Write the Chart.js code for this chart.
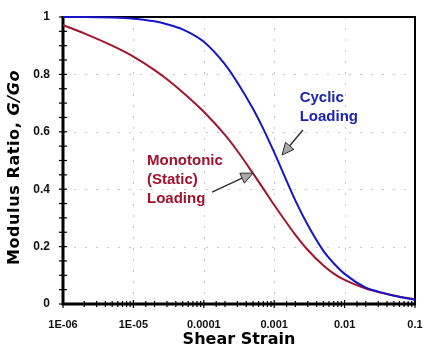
<!DOCTYPE html>
<html>
<head>
<meta charset="utf-8">
<script src="https://cdn.jsdelivr.net/npm/chart.js@4.4.1/dist/chart.umd.min.js"></script>
<style>
  html, body { margin: 0; padding: 0; background: #fff; overflow: hidden; }
  #wrap { width: 423px; height: 352px; position: relative; }
</style>
</head>
<body>
<div id="wrap"><canvas id="c"></canvas></div>
<script>
// Shear strain (log scale) and modulus ratio G/Go for the two loading types
const strain    = [1e-6, 2e-6, 5e-6, 1e-5, 2e-5, 3e-5, 5e-5, 1e-4, 2e-4, 3e-4, 5e-4, 7e-4, 1e-3, 1.5e-3, 2e-3, 3e-3, 5e-3, 7e-3, 1e-2, 2e-2, 3e-2, 5e-2, 1e-1];
const cyclic    = [1.000, 1.000, 0.998, 0.994, 0.985, 0.975, 0.957, 0.914, 0.835, 0.772, 0.680, 0.610, 0.528, 0.429, 0.360, 0.275, 0.185, 0.142, 0.105, 0.057, 0.043, 0.029, 0.015];
const monotonic = [0.972, 0.943, 0.900, 0.862, 0.815, 0.783, 0.738, 0.670, 0.589, 0.533, 0.455, 0.402, 0.345, 0.283, 0.241, 0.188, 0.134, 0.106, 0.084, 0.054, 0.042, 0.030, 0.016];

// Axis tick labels
const xDecades    = [1e-6, 1e-5, 1e-4, 1e-3, 1e-2, 1e-1];
const xTickLabels = ['1E-06', '1E-05', '0.0001', '0.001', '0.01', '0.1'];
const yTicks      = [0, 0.2, 0.4, 0.6, 0.8, 1];
const yTickLabels = ['0', '0.2', '0.4', '0.6', '0.8', '1'];

// Callout labels with arrows, placed in data coordinates
const callouts = [
  { lines: ['Cyclic', 'Loading'], color: '#1c22b4', textAt: [2.3e-3, 0.718], lineStep: -0.066,
    arrowFrom: [2.56e-3, 0.606], arrowTo: [1.29e-3, 0.519] },
  { lines: ['Monotonic', '(Static)', 'Loading'], color: '#a0122e', textAt: [1.56e-5, 0.498], lineStep: -0.065,
    arrowFrom: [1.31e-4, 0.390], arrowTo: [5.0e-4, 0.456] }
];

const isDecade = v => xDecades.findIndex(d => Math.abs(Math.log10(v) - Math.log10(d)) < 1e-6);

const decorations = {
  id: 'decorations',
  beforeDatasetsDraw(chart) {
    const { ctx, chartArea: a, scales: { x, y } } = chart;
    ctx.save();
    // dotted grid
    ctx.strokeStyle = '#c8c8c8';
    ctx.lineWidth = 1;
    ctx.setLineDash([2, 9]);
    yTicks.slice(1, -1).forEach(v => {
      const py = Math.round(y.getPixelForValue(v)) + 0.5;
      ctx.beginPath(); ctx.moveTo(a.left, py); ctx.lineTo(a.right, py); ctx.stroke();
    });
    xDecades.slice(1, -1).forEach(v => {
      const px = Math.round(x.getPixelForValue(v)) + 0.5;
      ctx.beginPath(); ctx.moveTo(px, a.top); ctx.lineTo(px, a.bottom); ctx.stroke();
    });
    ctx.setLineDash([]);

    // tick marks crossing the axes
    ctx.strokeStyle = '#000';
    ctx.lineWidth = 1.2;
    for (let i = 0; i <= 20; i++) {
      const py = y.getPixelForValue(i * 0.05);
      ctx.beginPath(); ctx.moveTo(a.left - 4, py); ctx.lineTo(a.left + 4, py); ctx.stroke();
    }
    x.ticks.forEach(t => {
      const px = x.getPixelForValue(t.value);
      const len = isDecade(t.value) >= 0 ? 4 : 3;
      ctx.beginPath(); ctx.moveTo(px, a.bottom - len); ctx.lineTo(px, a.bottom + len); ctx.stroke();
    });

    // frame
    ctx.lineWidth = 2;
    ctx.beginPath();
    ctx.moveTo(a.left, a.top); ctx.lineTo(a.right, a.top); ctx.lineTo(a.right, a.bottom);
    ctx.stroke();
    ctx.lineWidth = 3;
    ctx.beginPath();
    ctx.moveTo(a.left, a.top - 1); ctx.lineTo(a.left, a.bottom); ctx.lineTo(a.right + 1, a.bottom);
    ctx.stroke();
    ctx.restore();
  },
  afterDatasetsDraw(chart) {
    const { ctx, chartArea: a, scales: { x, y } } = chart;
    ctx.save();
    // callouts
    callouts.forEach(c => {
      const tx = x.getPixelForValue(c.textAt[0]);
      ctx.font = 'bold 15px "Liberation Sans", Arial, sans-serif';
      ctx.fillStyle = c.color;
      ctx.textAlign = 'left';
      ctx.textBaseline = 'middle';
      c.lines.forEach((s, i) => {
        ctx.fillText(s, tx, y.getPixelForValue(c.textAt[1] + i * c.lineStep));
      });
      const x0 = x.getPixelForValue(c.arrowFrom[0]), y0 = y.getPixelForValue(c.arrowFrom[1]);
      const x1 = x.getPixelForValue(c.arrowTo[0]),   y1 = y.getPixelForValue(c.arrowTo[1]);
      const ang = Math.atan2(y1 - y0, x1 - x0);
      const headLen = 12, headW = 5.5;
      const bx = x1 - headLen * Math.cos(ang), by = y1 - headLen * Math.sin(ang);
      ctx.strokeStyle = '#333';
      ctx.lineWidth = 1.5;
      ctx.beginPath(); ctx.moveTo(x0, y0); ctx.lineTo(bx, by); ctx.stroke();
      ctx.beginPath();
      ctx.moveTo(x1, y1);
      ctx.lineTo(bx + headW * Math.sin(ang), by - headW * Math.cos(ang));
      ctx.lineTo(bx - headW * Math.sin(ang), by + headW * Math.cos(ang));
      ctx.closePath();
      ctx.fillStyle = '#a8a8a8';
      ctx.fill();
      ctx.lineWidth = 1;
      ctx.strokeStyle = '#2a2a2a';
      ctx.stroke();
    });

    // axis titles
    ctx.fillStyle = '#000';
    ctx.textBaseline = 'middle';
    ctx.font = 'bold 16px "DejaVu Sans", sans-serif';
    ctx.textAlign = 'center';
    ctx.fillText('Shear Strain', (a.left + a.right) / 2, a.bottom + 36);

    const part1 = 'Modulus Ratio, ', part2 = 'G/Go';
    const f1 = 'bold 16px "DejaVu Sans", sans-serif';
    const f2 = 'italic bold 16px "DejaVu Sans", sans-serif';
    ctx.letterSpacing = '0.6px';
    ctx.font = f1; const w1 = ctx.measureText(part1).width;
    ctx.font = f2; const w2 = ctx.measureText(part2).width;
    ctx.translate(15, (a.top + a.bottom) / 2 + 7);
    ctx.rotate(-Math.PI / 2);
    ctx.textAlign = 'left';
    ctx.font = f1; ctx.fillText(part1, -(w1 + w2) / 2, 0);
    ctx.font = f2; ctx.fillText(part2, -(w1 + w2) / 2 + w1, 0);
    ctx.restore();
  }
};

new Chart(document.getElementById('c'), {
  type: 'line',
  data: {
    labels: strain,
    datasets: [
      { label: 'Cyclic Loading', data: strain.map((s, i) => ({ x: s, y: cyclic[i] })),
        borderColor: '#1616c8', borderWidth: 2, pointRadius: 0, cubicInterpolationMode: 'monotone', clip: 6 },
      { label: 'Monotonic (Static) Loading', data: strain.map((s, i) => ({ x: s, y: monotonic[i] })),
        borderColor: '#a3152f', borderWidth: 2, pointRadius: 0, cubicInterpolationMode: 'monotone', clip: 6 }
    ]
  },
  options: {
    responsive: true,
    maintainAspectRatio: false,
    animation: false,
    events: [],
    layout: { padding: { top: 17, right: 0, left: 0, bottom: 0 } },
    plugins: { legend: { display: false }, tooltip: { enabled: false } },
    scales: {
      x: {
        type: 'logarithmic',
        min: xDecades[0], max: xDecades[xDecades.length - 1],
        grid: { display: false, drawTicks: false },
        border: { display: false },
        ticks: {
          autoSkip: false, maxRotation: 0, padding: 14, color: '#111',
          font: { family: '"Liberation Sans", Arial, sans-serif', size: 11, weight: 'bold' },
          callback: v => { const i = isDecade(v); return i >= 0 ? xTickLabels[i] : ''; }
        },
        afterFit: s => { s.height = 48; s.paddingLeft = 0; s.paddingRight = 8; }
      },
      y: {
        min: yTicks[0], max: yTicks[yTicks.length - 1],
        grid: { display: false, drawTicks: false },
        border: { display: false },
        ticks: {
          stepSize: 0.2, padding: 13, color: '#111',
          font: { family: '"Liberation Sans", Arial, sans-serif', size: 12, weight: 'bold' },
          callback: v => { const i = yTicks.findIndex(t => Math.abs(t - v) < 1e-6); return i >= 0 ? yTickLabels[i] : ''; }
        },
        afterFit: s => { s.width = 63; s.paddingTop = 0; s.paddingBottom = 0; }
      }
    }
  },
  plugins: [decorations]
});
</script>
</body>
</html>
